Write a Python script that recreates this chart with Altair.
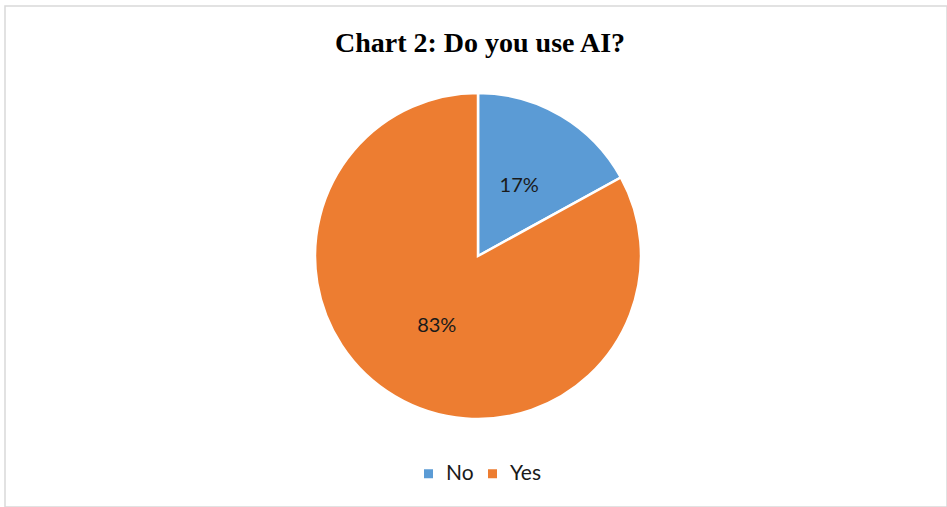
import altair as alt
import pandas as pd

categories = ["No", "Yes"]
values = [17, 83]
labels = ["17%", "83%"]
title_text = "Chart 2: Do you use AI?"
colors = ["#5B9BD5", "#ED7D31"]

df = pd.DataFrame({"answer": categories, "value": values, "label": labels, "order": [0, 1]})

CX, CY, R = 473, 250, 163

base = alt.Chart(df).encode(
    theta=alt.Theta("value:Q", stack=True),
    order=alt.Order("order:Q"),
)

pie = base.mark_arc(stroke="white", strokeWidth=2.5, radius=R).encode(
    x=alt.value(CX),
    y=alt.value(CY),
    color=alt.Color(
        "answer:N",
        scale=alt.Scale(domain=categories, range=colors),
        legend=alt.Legend(
            title=None,
            orient="none",
            direction="horizontal",
            legendX=413,
            legendY=457,
            symbolType="square",
            symbolSize=81,
            symbolStrokeWidth=0,
            labelFont="Lato",
            labelFontSize=21,
            labelColor="#1a1a1a",
            labelOffset=7,
            columnPadding=8,
        ),
    ),
)

text = base.mark_text(radius=81, font="Lato", fontSize=20, color="#1a1a1a", baseline="middle", align="center").encode(
    x=alt.value(CX),
    y=alt.value(CY),
    text="label:N",
)

title_df = pd.DataFrame({"t": [title_text]})
title = alt.Chart(title_df).mark_text(
    font="Liberation Serif", fontSize=28, fontWeight="bold", color="#000000", baseline="alphabetic", align="center"
).encode(x=alt.value(CX + 2), y=alt.value(46), text="t:N")

chart = alt.layer(pie, text, title).properties(
    width=942,
    height=501,
    padding={"left": 5, "top": 6, "right": 0, "bottom": 0},
    autosize=alt.AutoSizeParams(type="none"),
).configure_view(stroke="#D9D9D9", strokeWidth=1.5)

chart.save("out.html", embed_options={"renderer": "svg", "actions": False})
